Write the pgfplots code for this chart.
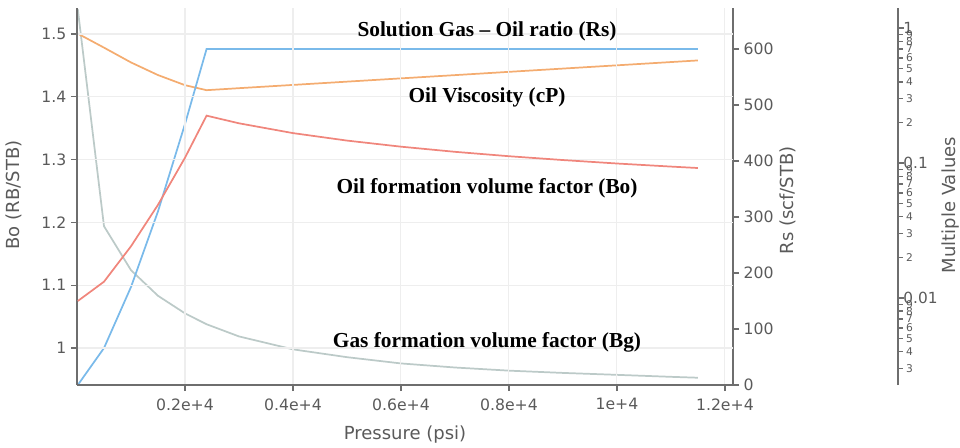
\documentclass[border=0pt]{standalone}
\usepackage{pgfplots}
\pgfplotsset{compat=1.18}
\usepackage{fontspec}
\setmainfont{DejaVu Sans}
\newfontfamily\annfont{Liberation Serif}
\definecolor{cRs}{RGB}{122,186,234}
\definecolor{cMu}{RGB}{244,172,112}
\definecolor{cBo}{RGB}{240,134,124}
\definecolor{cBg}{RGB}{188,202,200}
\definecolor{axc}{RGB}{110,110,110}
\definecolor{txc}{RGB}{90,90,90}
\definecolor{grc}{RGB}{238,238,238}

\pgfplotstableread{
p Bo
14.7 1.0748
500 1.1056
1000 1.1620
1500 1.2280
2000 1.3030
2400 1.3700
3000 1.3578
4000 1.3422
5000 1.3303
6000 1.3206
7000 1.3124
8000 1.3054
9000 1.2993
10000 1.2938
11000 1.2889
11500 1.2866
}\tBo
\pgfplotstableread{
p Rs
14.7 0
500 66
1000 175
1500 310
2000 466
2400 600
6000 600
11500 600
}\tRs
\pgfplotstableread{
p mu
14.7 0.911
500 0.717
1000 0.557
1500 0.449
2000 0.378
2400 0.347
3000 0.3591
4000 0.3796
5000 0.4014
6000 0.4244
7000 0.4486
8000 0.4744
9000 0.5016
10000 0.5302
11000 0.5606
11500 0.5764
}\tMu
\pgfplotstableread{
p Bg
14.7 1.38
500 0.0341
1000 0.0161
1500 0.0104
2000 0.00771
2400 0.0064
3000 0.0052
4000 0.00417
5000 0.00365
6000 0.00328
7000 0.00306
8000 0.00290
9000 0.00279
10000 0.00270
11000 0.00261
11500 0.00257
}\tBg

\pgfplotsset{
  common/.style={
    scale only axis, height=282.75pt, at={(0pt,0pt)}, anchor=south west,
    axis line style={axc, line width=1.4pt},
    tick style={axc, line width=1pt},
    tick align=outside, major tick length=4.5pt,
    /pgf/number format/assume math mode=true,
    scaled x ticks=false, scaled y ticks=false,
    ticklabel style={txc, font=\fontsize{11.75}{13}\selectfont},
    label style={txc, font=\fontsize{13.5}{15}\selectfont},
    every axis plot/.append style={line width=1.3pt, no markers},
    clip=true,
  }
}

\begin{document}
\begin{tikzpicture}
\path[use as bounding box] (-57.75pt,-46.5pt) rectangle (662.25pt,288.75pt);

% log axis (far right)
\begin{axis}[common, width=615.75pt,
  xmin=0, xmax=15206, hide x axis,
  axis y line*=right, ymode=log, ymin=0.00227, ymax=1.41,
  ytick={0.003,0.004,0.005,0.006,0.007,0.008,0.009,0.02,0.03,0.04,0.05,0.06,0.07,0.08,0.09,0.2,0.3,0.4,0.5,0.6,0.7,0.8,0.9},
  yticklabels={3,4,5,6,7,8,9,2,3,4,5,6,7,8,9,2,3,4,5,6,7,8,9},
  minor y tick num=0,
  yticklabel style={font=\fontsize{8}{9}\selectfont, xshift=-1pt},
  major tick length=3.5pt,
  extra y ticks={0.01,0.1,1},
  extra y tick labels={0.01,0.1,1},
  extra y tick style={major tick length=4.5pt, yticklabel style={font=\fontsize{11.5}{12}\selectfont, xshift=-3pt}},
  ylabel={Multiple Values},
  ylabel style={at={(axis description cs:1.0645,0.477)}, anchor=center},
]
\addplot[cBg] table[x=p,y=Bg] {\tBg};
\addplot[cMu] table[x=p,y=mu] {\tMu};
\end{axis}

% Rs axis (right)
\begin{axis}[common, width=492pt,
  xmin=0, xmax=12150, hide x axis,
  axis y line*=right, ymin=0, ymax=673.2,
  ytick={0,100,...,600},
  ylabel={Rs (scf/STB)},
  ylabel style={at={(axis description cs:1.084,0.49)}, anchor=center},
]
\addplot[cRs] table[x=p,y=Rs] {\tRs};
\end{axis}

% Bo axis (left)
\begin{axis}[common, width=492pt,
  xmin=0, xmax=12150, ymin=0.9411, ymax=1.5414,
  axis x line*=bottom, axis y line*=left,
  xtick={2000,4000,...,12000},
  xticklabels={0.2e+4,0.4e+4,0.6e+4,0.8e+4,1e+4,1.2e+4},
  xticklabel style={yshift=-2pt},
  ytick={1,1.1,1.2,1.3,1.4,1.5},
  yticklabels={1,1.1,1.2,1.3,1.4,1.5},
  xmajorgrids, ymajorgrids,
  major grid style={grc, line width=0.8pt},
  xlabel={Pressure (psi)},
  xlabel style={at={(axis description cs:0.5,-0.1326)}, anchor=center},
  ylabel={Bo (RB/STB)},
  ylabel style={at={(axis description cs:-0.096,0.504)}, anchor=center},
]
\addplot[cBo] table[x=p,y=Bo] {\tBo};
\node[font=\annfont\bfseries\fontsize{16}{19}\selectfont] at (rel axis cs:0.625,0.939) {Solution Gas – Oil ratio (Rs)};
\node[font=\annfont\bfseries\fontsize{16}{19}\selectfont] at (rel axis cs:0.625,0.764) {Oil Viscosity (cP)};
\node[font=\annfont\bfseries\fontsize{16}{19}\selectfont] at (rel axis cs:0.625,0.5225) {Oil formation volume factor (Bo)};
\node[font=\annfont\bfseries\fontsize{16}{19}\selectfont] at (rel axis cs:0.625,0.114) {Gas formation volume factor (Bg)};
\end{axis}
\end{tikzpicture}
\end{document}
